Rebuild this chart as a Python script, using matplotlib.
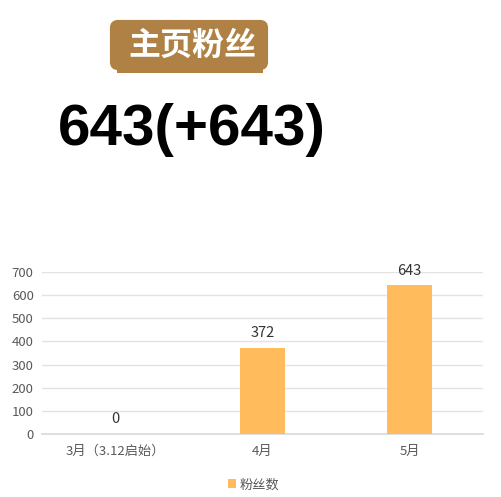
import matplotlib.pyplot as plt
from matplotlib.patches import FancyBboxPatch, Rectangle

plt.rcParams['font.family'] = ['Noto Sans CJK SC', 'DejaVu Sans']

title = '主页粉丝'
headline = '643(+643)'
months = ['3月（3.12启始）', '4月', '5月']
fans = [0, 372, 643]
series_name = '粉丝数'
yticks = [0, 100, 200, 300, 400, 500, 600, 700]

W, H = 502, 497
fig = plt.figure(figsize=(W / 100, H / 100), dpi=100)

# badge
badge_col = '#B08144'
fig.patches.append(Rectangle((117 / W, 1 - 73 / H), 146 / W, 6 / H,
                             transform=fig.transFigure, facecolor=badge_col,
                             edgecolor='none'))
fig.patches.append(FancyBboxPatch((112 / W, 1 - 68 / H), 154 / W, 46 / H,
                                  boxstyle='round,pad=0,rounding_size=0.012',
                                  transform=fig.transFigure, facecolor=badge_col,
                                  edgecolor=badge_col, linewidth=3))
fig.text(192 / W, 1 - 46 / H, title, color='white', fontsize=23,
         fontweight='bold', ha='center', va='center')

fig.text(192 / W, 1 - 130 / H, headline, color='black', fontsize=42,
         fontweight='bold', family=['Liberation Sans', 'DejaVu Sans'],
         ha='center', va='center')

# chart
ax = fig.add_axes([42 / W, 1 - 434 / H, 441 / W, 162 / H])
x = range(len(months))
bars = ax.bar(x, fans, width=0.31, color='#FFBB5C', label=series_name, zorder=3)
for xi, v in zip(x, fans):
    ax.annotate(str(v), (xi, v), xytext=(0, 5.5), textcoords='offset points',
                ha='center', va='bottom', fontsize=10.5, color='#333333')

ax.set_ylim(0, 700)
ax.set_xlim(-0.5, 2.5)
ax.set_yticks(yticks)
ax.set_xticks(list(x))
ax.set_xticklabels(months)
ax.grid(axis='y', color='#E3E3E3', linewidth=1, zorder=0)
for s in ['top', 'right', 'left']:
    ax.spines[s].set_visible(False)
ax.spines['bottom'].set_color('#D9D9D9')
ax.spines['bottom'].set_linewidth(1.2)
ax.tick_params(axis='both', length=0, labelsize=9.5, colors='#595959')
ax.tick_params(axis='y', pad=6)
ax.tick_params(axis='x', pad=8)

leg = ax.legend(loc='upper center', bbox_to_anchor=(0.48, -0.2), frameon=False,
                fontsize=9.5, handlelength=0.6, handleheight=0.6,
                handletextpad=0.3)
for t in leg.get_texts():
    t.set_color('#595959')

fig.savefig('out.png', dpi=100)
